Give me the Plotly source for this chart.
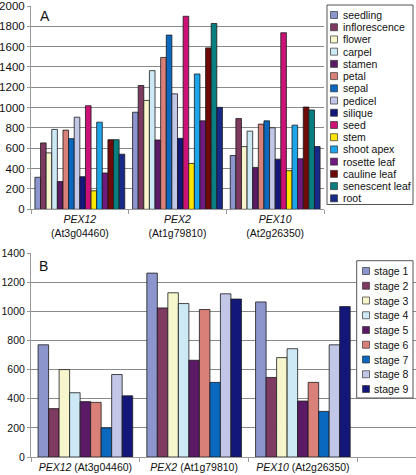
import plotly.graph_objects as go

# ---------------- data ----------------
genes = ["PEX12", "PEX2", "PEX10"]
loci = ["At3g04460", "At1g79810", "At2g26350"]

tissues = ["seedling", "inflorescence", "flower", "carpel", "stamen", "petal",
           "sepal", "pedicel", "silique", "seed", "stem", "shoot apex",
           "rosette leaf", "cauline leaf", "senescent leaf", "root"]
pex12_tissue = [315, 653, 555, 786, 273, 779, 695, 906, 321, 1019, 182, 857, 357, 685, 685, 542]
pex2_tissue = [955, 1218, 1071, 1364, 682, 1494, 1714, 1136, 698, 1899, 451, 1331, 870, 1588, 1828, 1003]
pex10_tissue = [529, 893, 617, 769, 412, 838, 870, 802, 493, 1737, 380, 828, 497, 1006, 977, 617]

stages = ["stage 1", "stage 2", "stage 3", "stage 4", "stage 5",
          "stage 6", "stage 7", "stage 8", "stage 9"]
pex12_stage = [770, 332, 600, 441, 380, 375, 200, 566, 420]
pex2_stage = [1262, 1023, 1127, 1053, 664, 1012, 512, 1120, 1084]
pex10_stage = [1064, 546, 682, 743, 384, 512, 313, 770, 1032]

colors = ["#8C95CC", "#7E3A60", "#F7F5CB", "#CDE9F6", "#5A1A66", "#D98078",
          "#0A68BE", "#C2C7E8", "#14177A", "#CC1177", "#FFE600", "#1CA5E8",
          "#701A80", "#6E0A0A", "#0A7F80", "#172A8A"]

yticks_A = [0, 200, 400, 600, 800, 1000, 1200, 1400, 1600, 1800, 2000]
yticks_B = [0, 200, 400, 600, 800, 1000, 1200, 1400]

# ---------------- geometry helpers ----------------
W, H = 416, 475
ML, MR, MT, MB = 31, 0, 6, 18
PW, PH = W - ML - MR, H - MT - MB


def px(x):
    return (x - ML) / PW


def py(y):
    return (H - MB - y) / PH


FONT = "Liberation Sans, Arial, sans-serif"

fig = go.Figure()

nA, nB = len(tissues), len(stages)
gapA, gapB = 0.08, 0.13
wA = (1 - gapA) / nA
wB = (1 - gapB) / nB

for i, t in enumerate(tissues):
    fig.add_trace(go.Bar(
        x=genes, y=[pex12_tissue[i], pex2_tissue[i], pex10_tissue[i]],
        name=t, marker=dict(color=colors[i], line=dict(color="#1a1a1a", width=0.8)),
        width=wA, offset=-0.5 + gapA / 2 + i * wA,
        xaxis="x", yaxis="y", showlegend=False))

for i, s in enumerate(stages):
    fig.add_trace(go.Bar(
        x=genes, y=[pex12_stage[i], pex2_stage[i], pex10_stage[i]],
        name=s, marker=dict(color=colors[i], line=dict(color="#1a1a1a", width=0.8)),
        width=wB, offset=-0.5 + gapB / 2 + i * wB,
        xaxis="x2", yaxis="y2", showlegend=False))

labels_A = ["<i>%s</i><br>(%s)" % (g, l) for g, l in zip(genes, loci)]
labels_B = ["<i>%s</i> (%s)" % (g, l) for g, l in zip(genes, loci)]

axis_common = dict(showline=True, linecolor="#9a9a9a", linewidth=1, zeroline=False,
                   automargin=False, ticklabeloverflow="allow")

fig.update_layout(
    width=W, height=H,
    margin=dict(l=ML, r=MR, t=MT, b=MB, pad=0, autoexpand=False),
    paper_bgcolor="white", plot_bgcolor="white",
    font=dict(family=FONT, color="#111111", size=11),
    barmode="overlay",
    xaxis=dict(domain=[0, px(324)], anchor="y", type="category",
               range=[-0.5, 2.5], tickvals=genes, ticktext=labels_A,
               tickson="boundaries", ticks="outside", ticklen=4, tickcolor="#9a9a9a",
               showgrid=False, tickfont=dict(size=10.5), **axis_common),
    yaxis=dict(domain=[py(209.3), 1.0], anchor="x", range=[0, 2000],
               tickvals=yticks_A, ticks="outside", ticklen=3, tickcolor="#9a9a9a",
               showgrid=True, gridcolor="#8a8a8a", gridwidth=1,
               tickfont=dict(size=11.5), **axis_common),
    xaxis2=dict(domain=[0, 1], anchor="y2", type="category",
                range=[-0.5, 3.04], tickvals=genes, ticktext=labels_B,
                tickson="boundaries", ticks="outside", ticklen=4, tickcolor="#9a9a9a",
                showgrid=False, tickfont=dict(size=10.5), **axis_common),
    yaxis2=dict(domain=[0, py(253)], anchor="x2", range=[0, 1400],
                tickvals=yticks_B, ticks="outside", ticklen=3, tickcolor="#9a9a9a",
                showgrid=True, gridcolor="#8a8a8a", gridwidth=1,
                tickfont=dict(size=10.5), **axis_common),
)

shapes = []
annotations = []

# panel letters
annotations.append(dict(x=px(38), y=py(16), xref="paper", yref="paper", text="A",
                        showarrow=False, xanchor="left", yanchor="middle",
                        font=dict(size=14, color="#111111")))
annotations.append(dict(x=px(37), y=py(266), xref="paper", yref="paper", text="B",
                        showarrow=False, xanchor="left", yanchor="middle",
                        font=dict(size=14, color="#111111")))

# legend A
shapes.append(dict(type="rect", xref="paper", yref="paper",
                   x0=px(327), x1=px(413), y0=py(204.5), y1=py(5),
                   line=dict(color="#555555", width=1), fillcolor="white", layer="above"))
for i, t in enumerate(tissues):
    cy = 15 + i * 12.22
    shapes.append(dict(type="rect", xref="paper", yref="paper",
                       x0=px(330.5), x1=px(337.5), y0=py(cy + 3.5), y1=py(cy - 3.5),
                       line=dict(color="#333333", width=0.7), fillcolor=colors[i], layer="above"))
    annotations.append(dict(x=px(340.5), y=py(cy), xref="paper", yref="paper", text=t,
                            showarrow=False, xanchor="left", yanchor="middle",
                            font=dict(size=10.5, color="#111111")))

# legend B
shapes.append(dict(type="rect", xref="paper", yref="paper",
                   x0=px(356.7), x1=px(413), y0=py(398), y1=py(260.7),
                   line=dict(color="#555555", width=1), fillcolor="white", layer="above"))
for i, s in enumerate(stages):
    cy = 271 + i * 14.75
    shapes.append(dict(type="rect", xref="paper", yref="paper",
                       x0=px(362.5), x1=px(369.5), y0=py(cy + 3.5), y1=py(cy - 3.5),
                       line=dict(color="#333333", width=0.7), fillcolor=colors[i], layer="above"))
    annotations.append(dict(x=px(371.5), y=py(cy), xref="paper", yref="paper", text=s,
                            showarrow=False, xanchor="left", yanchor="middle",
                            font=dict(size=10.5, color="#111111")))

fig.update_layout(shapes=shapes, annotations=annotations)

fig.write_html("out.html", config={"displayModeBar": False},
               post_script="document.body.style.margin='0px';document.body.style.padding='0px';")
